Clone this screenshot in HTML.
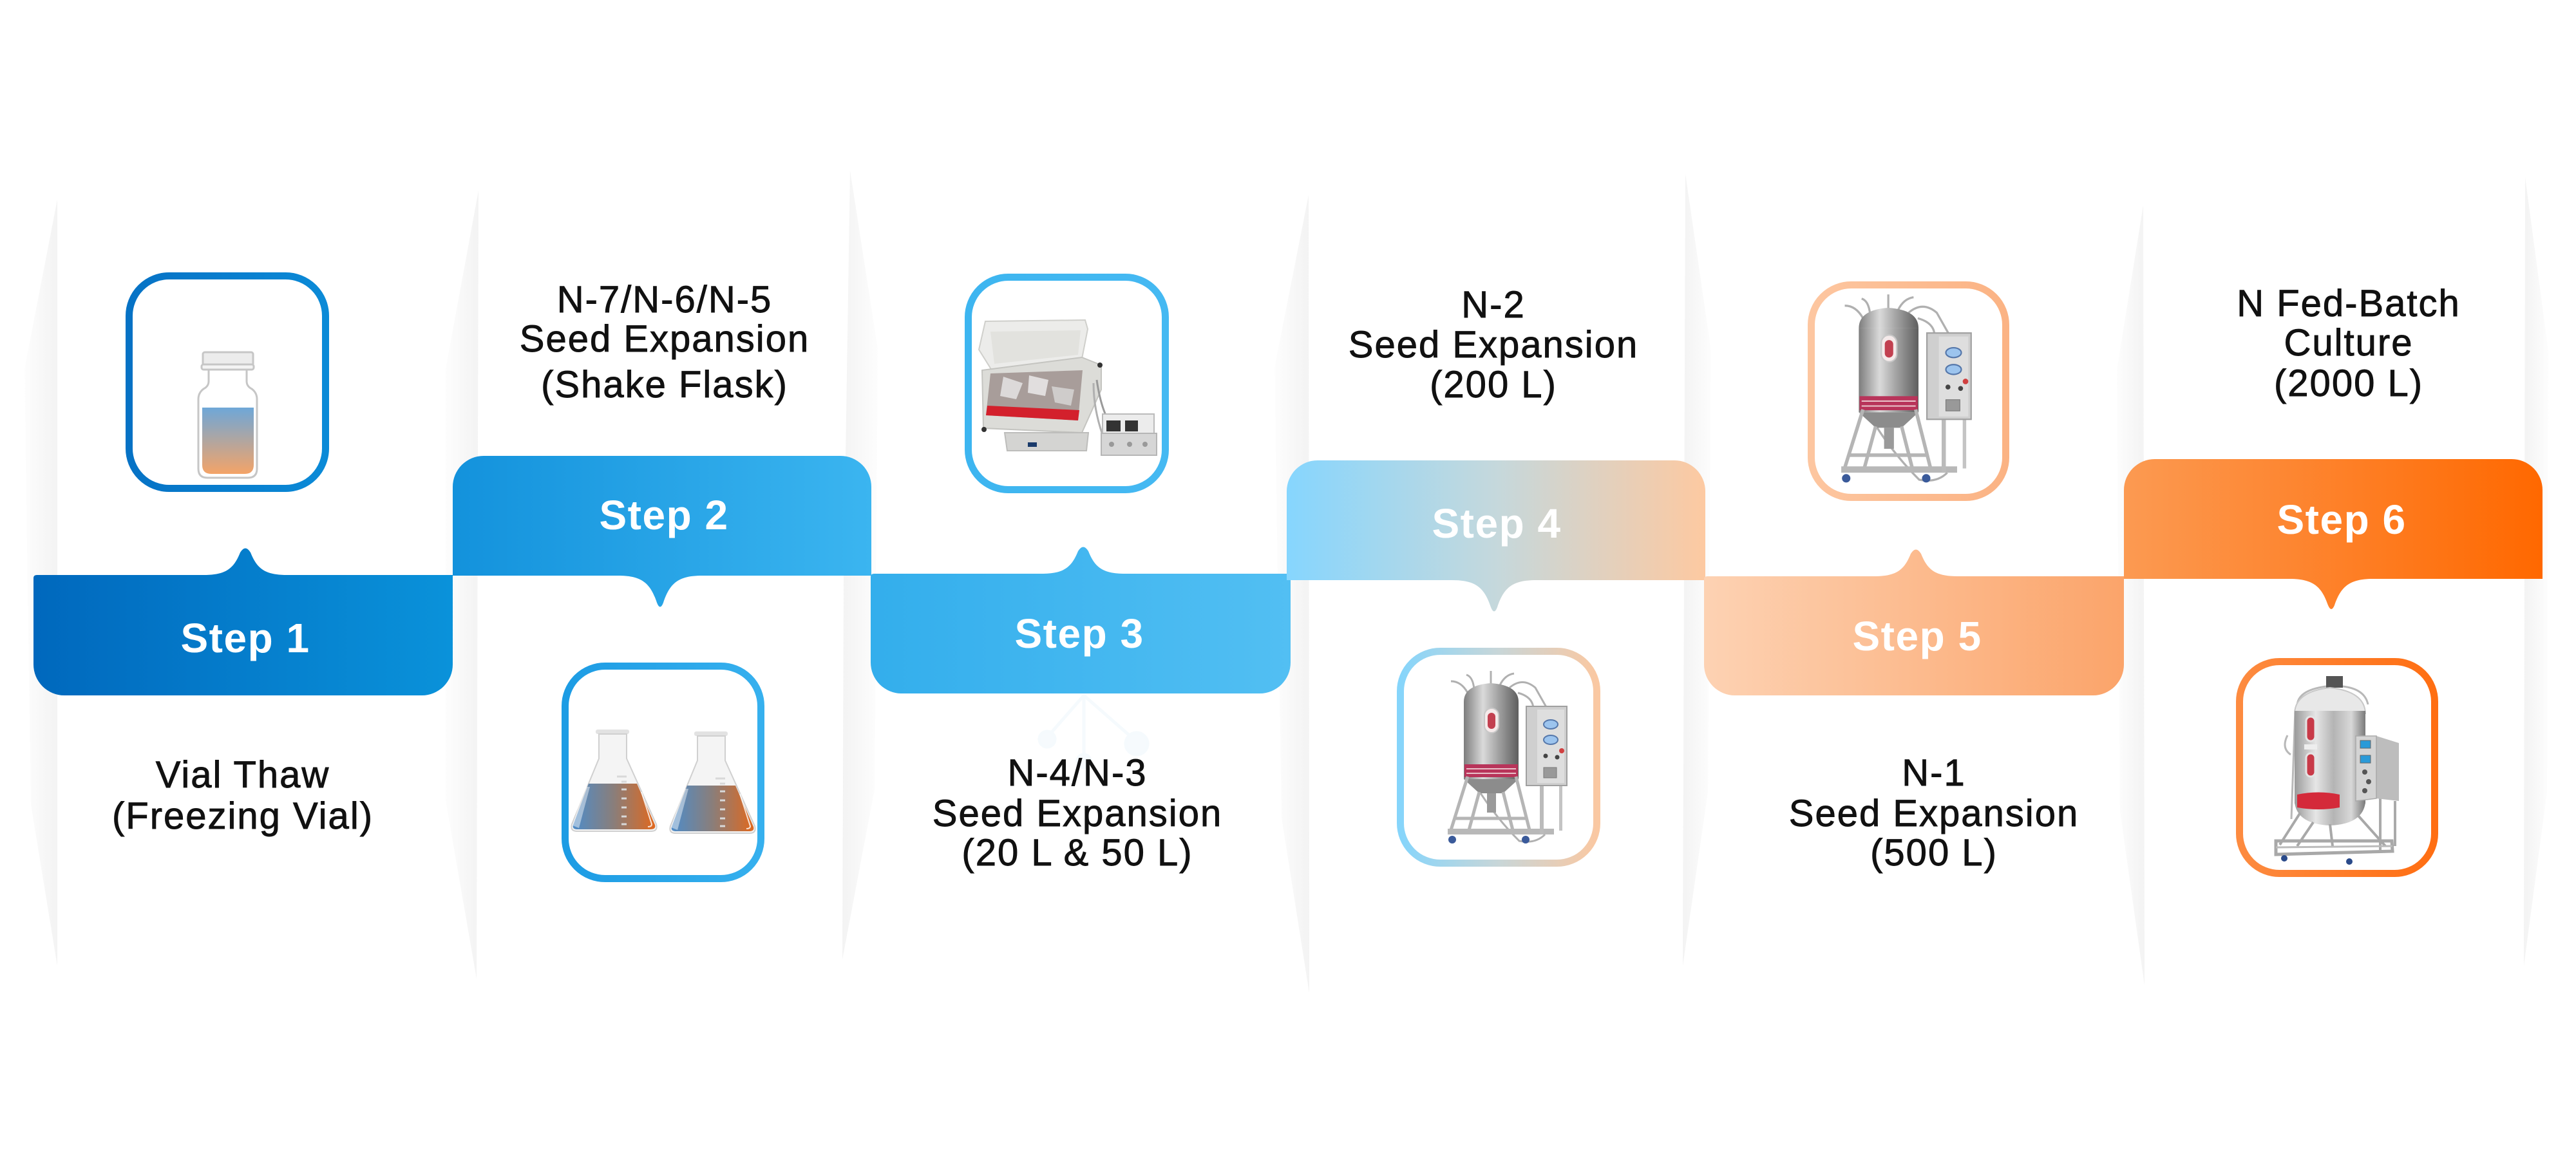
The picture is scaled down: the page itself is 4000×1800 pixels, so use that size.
<!DOCTYPE html>
<html><head><meta charset="utf-8"><style>
html,body{margin:0;padding:0;background:#fff;}
svg{display:block;}
.lbl{font-family:"Liberation Sans",Arial,sans-serif;font-size:58px;letter-spacing:2px;fill:#111;stroke:#111;stroke-width:0.9px;text-anchor:middle;}
.stp{font-family:"Liberation Sans",Arial,sans-serif;font-size:64px;font-weight:bold;letter-spacing:1.5px;fill:#fff;text-anchor:middle;}
</style></head><body>
<svg width="4000" height="1800" viewBox="0 0 4000 1800" xmlns="http://www.w3.org/2000/svg">
<defs>
<linearGradient id="g1" x1="0" x2="1" y1="0" y2="0"><stop offset="0" stop-color="#0068bd"/><stop offset="1" stop-color="#0a92da"/></linearGradient>
<linearGradient id="g2" x1="0" x2="1" y1="0" y2="0"><stop offset="0" stop-color="#1392dc"/><stop offset="1" stop-color="#3bb5f0"/></linearGradient>
<linearGradient id="g3" x1="0" x2="1" y1="0" y2="0"><stop offset="0" stop-color="#33aeec"/><stop offset="1" stop-color="#52bff3"/></linearGradient>
<linearGradient id="g4" x1="0" x2="1" y1="0" y2="0"><stop offset="0" stop-color="#86d6fe"/><stop offset="0.5" stop-color="#c5d8dc"/><stop offset="1" stop-color="#fdc9a1"/></linearGradient>
<linearGradient id="g5" x1="0" x2="1" y1="0" y2="0"><stop offset="0" stop-color="#fdd2b3"/><stop offset="1" stop-color="#fba46a"/></linearGradient>
<linearGradient id="g6" x1="0" x2="1" y1="0" y2="0"><stop offset="0" stop-color="#fc9a52"/><stop offset="1" stop-color="#ff6800"/></linearGradient>

<linearGradient id="b1" x1="0" x2="1"><stop offset="0" stop-color="#0672c5"/><stop offset="1" stop-color="#0b8ad7"/></linearGradient>
<linearGradient id="b2" x1="0" x2="1"><stop offset="0" stop-color="#1d9ce4"/><stop offset="1" stop-color="#36b0ee"/></linearGradient>
<linearGradient id="b3" x1="0" x2="1"><stop offset="0" stop-color="#3db5f0"/><stop offset="1" stop-color="#45b9f2"/></linearGradient>
<linearGradient id="b4" x1="0" x2="1"><stop offset="0" stop-color="#86d5fb"/><stop offset="0.5" stop-color="#c8d6d8"/><stop offset="1" stop-color="#fac8a2"/></linearGradient>
<linearGradient id="b5" x1="0" x2="1"><stop offset="0" stop-color="#fdc6a0"/><stop offset="1" stop-color="#fbb384"/></linearGradient>
<linearGradient id="b6" x1="0" x2="1"><stop offset="0" stop-color="#fd8b40"/><stop offset="1" stop-color="#ff6e12"/></linearGradient>

<linearGradient id="pA" x1="0" x2="1"><stop offset="0" stop-color="#fdfdfd"/><stop offset="1" stop-color="#f3f3f3"/></linearGradient>
<linearGradient id="pB" x1="0" x2="1"><stop offset="0" stop-color="#f3f3f3"/><stop offset="1" stop-color="#fdfdfd"/></linearGradient>

<linearGradient id="liq" x1="0" x2="0" y1="0" y2="1"><stop offset="0" stop-color="#6ea7d8"/><stop offset="1" stop-color="#f4a468"/></linearGradient>
<linearGradient id="fl" x1="0" x2="1"><stop offset="0" stop-color="#4f8cc8"/><stop offset="0.5" stop-color="#8a7e7a"/><stop offset="1" stop-color="#e0681e"/></linearGradient>
<linearGradient id="steel" x1="0" x2="1"><stop offset="0" stop-color="#7d7d7d"/><stop offset="0.35" stop-color="#dadada"/><stop offset="0.6" stop-color="#a8a8a8"/><stop offset="1" stop-color="#5e5e5e"/></linearGradient>
<linearGradient id="steel2" x1="0" x2="1"><stop offset="0" stop-color="#9a9a9a"/><stop offset="0.3" stop-color="#e6e6e6"/><stop offset="0.55" stop-color="#b4b4b4"/><stop offset="0.8" stop-color="#d8d8d8"/><stop offset="1" stop-color="#7a7a7a"/></linearGradient>

<g id="flask">
  <rect x="925" y="1133" width="52" height="7" rx="3" fill="#e2e2e2"/>
  <path d="M930,1140 L930,1178 L888,1280 Q885,1291 896,1291 L1011,1291 Q1022,1291 1019,1280 L973,1178 L973,1140 Z" fill="#f4f4f4" stroke="#d0d0d0" stroke-width="2"/>
  <path d="M914,1217 L989,1217 L1017,1281 Q1019,1288 1010,1288 L897,1288 Q888,1288 890,1281 Z" fill="url(#fl)"/>
  <path d="M907,1222 L889,1282 L899,1286 L916,1222 Z" fill="#ffffff" opacity="0.45"/>
  <path d="M996,1230 L1012,1280 Q1012,1284 1006,1284" fill="none" stroke="#fff" stroke-width="2" opacity="0.8"/>
  <g stroke="#d8d8d8" stroke-width="3">
    <line x1="958" y1="1206" x2="973" y2="1206"/><line x1="965" y1="1214" x2="973" y2="1214"/>
    <line x1="965" y1="1226" x2="973" y2="1226"/><line x1="965" y1="1240" x2="973" y2="1240"/>
    <line x1="965" y1="1254" x2="973" y2="1254"/><line x1="965" y1="1268" x2="973" y2="1268"/>
    <line x1="965" y1="1280" x2="973" y2="1280"/>
  </g>
</g>

<g id="reactor">
  <g fill="none" stroke="#b0b0b0" stroke-width="3">
    <path d="M110,70 Q100,52 84,52"/>
    <path d="M120,64 Q118,45 108,42"/>
    <path d="M146,56 L146,36"/>
    <path d="M160,58 Q168,42 182,40"/>
    <path d="M175,62 Q195,45 215,62 L232,92"/>
    <path d="M188,70 Q225,80 205,120"/>
    <path d="M120,210 Q150,260 190,300 Q215,305 230,290"/>
  </g>
  <path d="M104,84 Q104,58 146,55 Q189,58 189,84 Z" fill="url(#steel)"/>
  <rect x="104" y="84" width="85" height="120" fill="url(#steel)"/>
  <rect x="136" y="94" width="22" height="38" rx="11" fill="#f5eaea" stroke="#c8c8c8" stroke-width="2"/>
  <rect x="141" y="101" width="12" height="25" rx="6" fill="#c24050"/>
  <rect x="105" y="181" width="83" height="20" fill="#b8345a"/>
  <g stroke="#e8c0c8" stroke-width="2"><line x1="108" y1="188" x2="185" y2="188"/><line x1="108" y1="195" x2="185" y2="195"/></g>
  <path d="M104,204 L189,204 L165,226 L128,226 Z" fill="#8c8c8c"/>
  <g stroke="#b5b5b5" stroke-width="5" fill="none">
    <line x1="110" y1="200" x2="84" y2="283"/>
    <line x1="185" y1="200" x2="206" y2="283"/>
    <line x1="128" y1="224" x2="112" y2="283"/>
    <line x1="165" y1="224" x2="180" y2="283"/>
    <line x1="90" y1="265" x2="200" y2="265"/>
  </g>
  <rect x="140" y="226" width="14" height="30" fill="#9a9a9a"/>
  <rect x="79" y="281" width="165" height="9" fill="#b8b8b8"/>
  <circle cx="86" cy="298" r="6" fill="#3a5a9a"/>
  <circle cx="200" cy="298" r="6" fill="#3a5a9a"/>
  <rect x="222" y="214" width="6" height="76" fill="#bbbbbb"/>
  <rect x="252" y="214" width="5" height="70" fill="#c4c4c4"/>
  <rect x="201" y="91" width="63" height="123" fill="#cfcfcf" stroke="#a0a0a0" stroke-width="2"/>
  <rect x="218" y="96" width="42" height="114" fill="#dedede"/>
  <ellipse cx="239" cy="119" rx="11" ry="7" fill="#9cc4ee" stroke="#5577aa" stroke-width="2"/>
  <ellipse cx="239" cy="143" rx="11" ry="7" fill="#9cc4ee" stroke="#5577aa" stroke-width="2"/>
  <circle cx="256" cy="160" r="4" fill="#d04040"/>
  <circle cx="231" cy="168" r="3.5" fill="#444"/>
  <circle cx="249" cy="170" r="3.5" fill="#444"/>
  <rect x="228" y="186" width="20" height="16" fill="#999" stroke="#777"/>
</g>
</defs>

<rect width="4000" height="1800" fill="#ffffff"/>

<!-- pillars -->
<polygon points="89,310 38,573 48,1250 89,1500" fill="url(#pA)"/>
<polygon points="743,296 692,573 692,1243 740,1520" fill="url(#pA)"/>
<polygon points="1320,265 1363,542 1358,1226 1308,1490 1310,900" fill="url(#pB)"/>
<polygon points="2032,303 1979,571 1990,1270 2033,1542" fill="url(#pA)"/>
<polygon points="2617,270 2657,545 2652,1230 2613,1500" fill="url(#pB)"/>
<polygon points="3328,319 3287,575 3292,1260 3330,1530" fill="url(#pA)"/>
<polygon points="3921,275 3957,545 3955,1230 3919,1500" fill="url(#pB)"/>

<!-- faint molecule -->
<g opacity="0.35" stroke="#e3f1fb" stroke-width="5" fill="#e7f3fc">
  <line x1="1683" y1="1078" x2="1683" y2="1180"/>
  <line x1="1683" y1="1080" x2="1626" y2="1145"/>
  <line x1="1683" y1="1080" x2="1765" y2="1152"/>
  <circle cx="1626" cy="1148" r="12"/>
  <circle cx="1765" cy="1155" r="17"/>
  <circle cx="1683" cy="1182" r="10"/>
</g>

<!-- banners -->
<path d="M52,898 Q52,893 57,893 L316,893 C351,893 363,883 373,858 Q381,845 389,858 C399,883 411,893 446,893 L703,893 L703,1032 A48,48 0 0 1 655,1080 L100,1080 A48,48 0 0 1 52,1032 Z" fill="url(#g1)"/>
<path d="M703,894 L703,756 A48,48 0 0 1 751,708 L1305,708 A48,48 0 0 1 1353,756 L1353,894 L1090,894 C1053,894 1040,906 1030,936 Q1025,949 1020,936 C1010,906 997,894 960,894 Z" fill="url(#g2)"/>
<path d="M1352,896 Q1352,891 1357,891 L1617,891 C1652,891 1664,881 1674,856 Q1682,843 1690,856 C1700,881 1712,891 1747,891 L2004,891 L2004,1029 A48,48 0 0 1 1956,1077 L1400,1077 A48,48 0 0 1 1352,1029 Z" fill="url(#g3)"/>
<path d="M1998,901 L1998,763 A48,48 0 0 1 2046,715 L2600,715 A48,48 0 0 1 2648,763 L2648,901 L2385,901 C2348,901 2335,913 2325,943 Q2320,956 2315,943 C2305,913 2292,901 2255,901 Z" fill="url(#g4)"/>
<path d="M2646,900 Q2646,895 2651,895 L2910,895 C2945,895 2957,885 2967,860 Q2975,847 2983,860 C2993,885 3005,895 3040,895 L3298,895 L3298,1032 A48,48 0 0 1 3250,1080 L2694,1080 A48,48 0 0 1 2646,1032 Z" fill="url(#g5)"/>
<path d="M3298,899 L3298,761 A48,48 0 0 1 3346,713 L3900,713 A48,48 0 0 1 3948,761 L3948,899 L3685,899 C3648,899 3635,911 3625,940 Q3620,952 3615,940 C3605,911 3592,899 3555,899 Z" fill="url(#g6)"/>

<text class="stp" x="381" y="1013">Step 1</text>
<text class="stp" x="1031" y="822">Step 2</text>
<text class="stp" x="1676" y="1006">Step 3</text>
<text class="stp" x="2324" y="835">Step 4</text>
<text class="stp" x="2977" y="1010">Step 5</text>
<text class="stp" x="3636" y="829">Step 6</text>

<!-- boxes -->
<rect x="200.5" y="428.5" width="305" height="330" rx="62" fill="#fff" stroke="url(#b1)" stroke-width="11"/>
<rect x="877.5" y="1034.5" width="304" height="330" rx="62" fill="#fff" stroke="url(#b2)" stroke-width="11"/>
<rect x="1503.5" y="430.5" width="306" height="330" rx="62" fill="#fff" stroke="url(#b3)" stroke-width="11"/>
<rect x="2174.5" y="1011.5" width="305" height="329" rx="62" fill="#fff" stroke="url(#b4)" stroke-width="11"/>
<rect x="2812.5" y="442.5" width="302" height="330" rx="62" fill="#fff" stroke="url(#b5)" stroke-width="11"/>
<rect x="3477.5" y="1027.5" width="303" height="329" rx="62" fill="#fff" stroke="url(#b6)" stroke-width="11"/>

<!-- vial -->
<path d="M324,574 L324,592 Q324,600 316,604 Q308,610 308,620 L308,728 Q308,742 322,742 L385,742 Q399,742 399,728 L399,620 Q399,610 391,604 Q383,600 383,592 L383,574 Z" fill="#fff" stroke="#c6c6c6" stroke-width="3"/>
<path d="M314,633 L394,633 L394,722 Q394,736 380,736 L328,736 Q314,736 314,722 Z" fill="url(#liq)"/>
<rect x="315" y="547" width="78" height="21" rx="3" fill="#ececec" stroke="#c6c6c6" stroke-width="3"/>
<rect x="313" y="566" width="81" height="8" rx="3" fill="#f4f4f4" stroke="#c6c6c6" stroke-width="3"/>

<!-- flasks -->
<use href="#flask"/>
<use href="#flask" transform="translate(153,3)"/>

<!-- shaker -->
<g transform="translate(1498,425)">
  <polygon points="32,74 187,72 191,86 182,132 42,150 22,118" fill="#ececea" stroke="#cfcfcb" stroke-width="2"/>
  <polygon points="40,90 180,88 176,126 46,140" fill="#e2e2de"/>
  <polygon points="27,150 182,130 212,142 212,180 182,247 29,240" fill="#dcdcd8" stroke="#c4c4c0" stroke-width="2"/>
  <polygon points="40,155 183,150 176,228 33,220" fill="#a89d9a"/>
  <polygon points="60,160 90,170 80,195 55,190" fill="#e8e8e8" opacity="0.8"/>
  <polygon points="100,158 130,165 125,190 98,185" fill="#efefef" opacity="0.8"/>
  <polygon points="135,175 170,180 165,205 140,200" fill="#e0e0e0" opacity="0.7"/>
  <polygon points="35,205 178,212 176,228 33,220" fill="#d3202c"/>
  <circle cx="30" cy="242" r="4" fill="#333"/><circle cx="182" cy="250" r="4" fill="#333"/><circle cx="210" cy="142" r="4" fill="#333"/>
  <polygon points="62,247 192,247 189,275 66,275" fill="#d4d4d2" stroke="#bdbdbb" stroke-width="2"/>
  <rect x="98" y="262" width="14" height="7" fill="#1a3a6a"/>
  <path d="M205,165 Q210,200 220,222" fill="none" stroke="#9a9a9a" stroke-width="3"/>
  <path d="M200,170 Q200,210 214,250" fill="none" stroke="#b0b0b0" stroke-width="3"/>
  <rect x="214" y="218" width="80" height="30" fill="#ececec" stroke="#bbbbbb" stroke-width="2"/>
  <rect x="220" y="228" width="22" height="17" fill="#333"/>
  <rect x="249" y="228" width="20" height="17" fill="#333"/>
  <rect x="212" y="248" width="86" height="34" fill="#d6d6d6" stroke="#b5b5b5" stroke-width="2"/>
  <circle cx="228" cy="265" r="4" fill="#999"/><circle cx="256" cy="265" r="4" fill="#999"/><circle cx="280" cy="265" r="4" fill="#999"/>
</g>

<!-- reactors 4 & 5 -->
<use href="#reactor" transform="translate(2169,1006)"/>
<use href="#reactor" transform="translate(2773,418) scale(1.09)"/>

<!-- reactor 6 -->
<g transform="translate(3472,1022)">
  <g fill="none" stroke="#b8b8b8" stroke-width="3">
    <path d="M95,75 Q95,50 140,44"/>
    <path d="M166,44 Q200,48 205,72"/>
    <path d="M92,80 L86,250"/>
    <path d="M80,120 Q70,140 85,150"/>
  </g>
  <rect x="140" y="28" width="26" height="18" fill="#555"/>
  <path d="M91,86 Q92,52 146,46 Q200,52 201,86 Z" fill="#e8e8e8" stroke="#c8c8c8" stroke-width="2"/>
  <rect x="91" y="82" width="110" height="144" fill="url(#steel2)"/>
  <path d="M91,224 Q95,258 146,260 Q197,258 201,224 Z" fill="url(#steel2)"/>
  <rect x="109" y="91" width="14" height="38" rx="7" fill="#c83a48" stroke="#e4e4e4" stroke-width="3"/>
  <rect x="109" y="148" width="14" height="36" rx="7" fill="#c83a48" stroke="#e4e4e4" stroke-width="3"/>
  <rect x="106" y="134" width="20" height="8" fill="#eee"/>
  <path d="M95,212 Q128,205 161,212 L161,232 Q128,238 95,232 Z" fill="#d42a3a"/>
  <g stroke="#a8a8a8" stroke-width="4" fill="none">
    <line x1="100" y1="240" x2="68" y2="290"/>
    <line x1="190" y1="245" x2="232" y2="292"/>
    <line x1="146" y1="258" x2="150" y2="292"/>
    <line x1="120" y1="255" x2="95" y2="292"/>
  </g>
  <rect x="222" y="218" width="4" height="80" fill="#aaa"/>
  <rect x="245" y="222" width="4" height="70" fill="#aaa"/>
  <polygon points="218,121 253,132 253,222 218,218" fill="#bdbdbd"/>
  <polygon points="186,121 218,121 218,218 186,222" fill="#d4d4d4" stroke="#aaa" stroke-width="1.5"/>
  <rect x="193" y="128" width="16" height="12" fill="#2a9ad8" stroke="#666"/>
  <rect x="193" y="151" width="16" height="12" fill="#2a9ad8" stroke="#666"/>
  <circle cx="200" cy="177" r="4" fill="#555"/><circle cx="206" cy="192" r="4" fill="#555"/><circle cx="200" cy="206" r="4" fill="#555"/>
  <polygon points="62,284 242,284 243,300 62,305" fill="none" stroke="#a8a8a8" stroke-width="5"/>
  <line x1="62" y1="294" x2="243" y2="292" stroke="#bbb" stroke-width="3"/>
  <circle cx="75" cy="311" r="5" fill="#2a4a8a"/><circle cx="176" cy="316" r="5" fill="#2a4a8a"/>
</g>

<!-- labels -->
<text class="lbl" x="377" y="1223">Vial Thaw</text>
<text class="lbl" x="377" y="1287">(Freezing Vial)</text>

<text class="lbl" x="1032" y="485">N-7/N-6/N-5</text>
<text class="lbl" x="1032" y="546">Seed Expansion</text>
<text class="lbl" x="1032" y="617">(Shake Flask)</text>

<text class="lbl" x="1673" y="1220">N-4/N-3</text>
<text class="lbl" x="1673" y="1283">Seed Expansion</text>
<text class="lbl" x="1673" y="1344">(20 L &amp; 50 L)</text>

<text class="lbl" x="2319" y="493">N-2</text>
<text class="lbl" x="2319" y="555">Seed Expansion</text>
<text class="lbl" x="2319" y="617">(200 L)</text>

<text class="lbl" x="3003" y="1220">N-1</text>
<text class="lbl" x="3003" y="1283">Seed Expansion</text>
<text class="lbl" x="3003" y="1344">(500 L)</text>

<text class="lbl" x="3647" y="491">N Fed-Batch</text>
<text class="lbl" x="3647" y="552">Culture</text>
<text class="lbl" x="3647" y="615">(2000 L)</text>
</svg>
</body></html>
